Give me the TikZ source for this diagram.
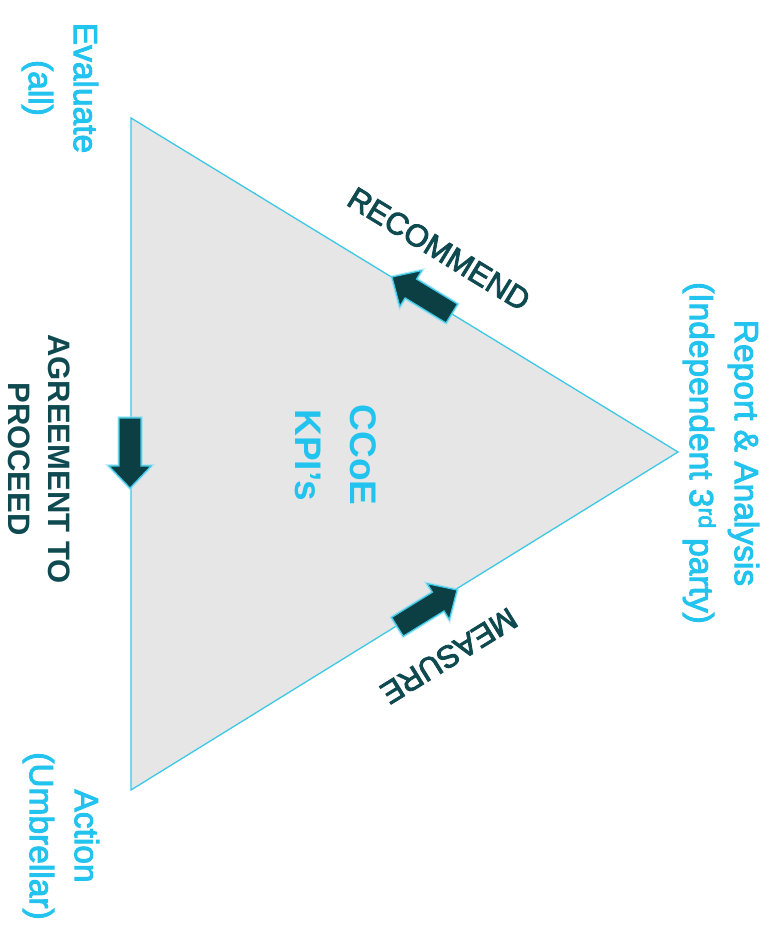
\documentclass[tikz,border=0pt]{standalone}
\usepackage{fontspec}
\setmainfont{Liberation Sans}
\newfontfamily\medfont[FakeBold=2.8]{Liberation Sans}
\usetikzlibrary{calc}
\definecolor{trifill}{HTML}{E6E6E6}
\definecolor{edgecyan}{HTML}{3CC8E6}
\definecolor{labblue}{HTML}{22C3EE}
\definecolor{darkteal}{HTML}{0F4A50}
\definecolor{arrowdark}{HTML}{0B3F44}
\tikzset{
  bluelab/.style={text=labblue, rotate=-90, align=center, inner sep=0pt,
    font=\medfont\fontsize{33.5}{45}\selectfont},
  darklab/.style={text=darkteal, inner sep=0pt, align=center,
    font=\bfseries\fontsize{31}{40}\selectfont},
  edgelab/.style={text=darkteal, inner sep=0pt,
    font=\medfont\fontsize{31}{34}\selectfont},
  kpilab/.style={text=labblue, rotate=-90, align=center, inner sep=0pt,
    font=\bfseries\fontsize{37}{55}\selectfont},
  blockarr/.pic={
    \path[draw=edgecyan!60, line width=3.5pt, line join=miter, opacity=0.5]
      (0,0) -- (-22,21) -- (-22,11) -- (-70,11) -- (-70,-11) -- (-22,-11) -- (-22,-21) -- cycle;
    \path[fill=arrowdark, draw=edgecyan, line width=1.2pt, line join=miter]
      (0,0) -- (-22,21) -- (-22,11) -- (-70,11) -- (-70,-11) -- (-22,-11) -- (-22,-21) -- cycle;
  }
}
\begin{document}
\begin{tikzpicture}[x=1pt,y=1pt]
\useasboundingbox[fill=white] (0,0) rectangle (773,936);
\coordinate (E) at (131,818);
\coordinate (R) at (678,484);
\coordinate (A) at (131,146);
\draw[fill=trifill, draw=edgecyan, line width=1.3pt, line join=miter] (E) -- (R) -- (A) -- cycle;

\node[bluelab] (ev) at (60,848) {Evaluate\\(all)};
\node[bluelab] (rep) at (721,483) {Report \& Analysis\\(Independent 3\textsuperscript{rd} party)};
\node[bluelab] (act) at (61,100) {Action\\(Umbrellar)};
\node[kpilab] (kpi) at (336,481) {CCoE\\KPI’s};
\node[darklab, rotate=-90] (agr) at (39,477) {AGREEMENT TO\\PROCEED};
\node[edgelab, rotate=-31.4] (rec) at (439,687) {RECOMMEND};
\node[edgelab, rotate=211.7] (mea) at (449,280) {MEASURE};

\pic[rotate=148.6] (recarrow) at (392,659) {blockarr};
\pic[rotate=31.7] (meaarrow) at (457,346) {blockarr};
\pic[rotate=-90] (agrarrow) at (130,448) {blockarr};
\end{tikzpicture}
\end{document}
